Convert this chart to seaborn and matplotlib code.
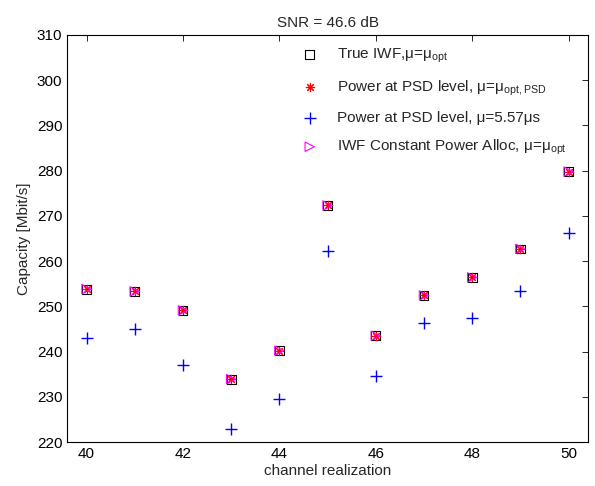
import numpy as np
import pandas as pd
import matplotlib
matplotlib.use("Agg")
import matplotlib.pyplot as plt
import seaborn as sns

# capacity per channel realization
channel = [40, 41, 42, 43, 44, 45, 46, 47, 48, 49, 50]
true_iwf = [253.8, 253.3, 249.1, 233.9, 240.2, 272.3, 243.5, 252.4, 256.4, 262.7, 279.8]
psd_opt = [253.8, 253.3, 249.1, 233.9, 240.2, 272.3, 243.5, 252.4, 256.4, 262.7, 279.8]
psd_fixed = [243.0, 245.1, 237.0, 222.9, 229.6, 262.2, 234.7, 246.3, 247.4, 253.5, 266.2]
iwf_const = [253.8, 253.3, 249.1, 233.9, 240.2, 272.3, 243.5, 252.4, 256.4, 262.7, 279.8]

labels = [
    "True IWF,μ=μ$_{\\mathrm{opt}}$",
    "Power at PSD level, μ=μ$_{\\mathrm{opt,PSD}}$",
    "Power at PSD level, μ=5.57μs",
    "IWF Constant Power Alloc, μ=μ$_{\\mathrm{opt}}$",
]

sns.set_style("white")
plt.rcParams["font.family"] = ["Liberation Sans", "DejaVu Sans"]
plt.rcParams["mathtext.fontset"] = "custom"
plt.rcParams["mathtext.rm"] = "Liberation Sans"
plt.rcParams["font.size"] = 11

fig = plt.figure(figsize=(5.95, 4.86), dpi=100)
ax = fig.add_axes([0.113, 0.0905, 0.875, 0.8375])

sns.scatterplot(x=channel, y=true_iwf, ax=ax, marker="s", s=40,
                facecolors="none", edgecolor="black", linewidth=0.8, label=labels[0])
sns.scatterplot(x=channel, y=psd_opt, ax=ax, marker=(8, 2, 0), s=36,
                color="#ff0000", edgecolor="#ff0000", linewidth=0.8, label=labels[1])
sns.scatterplot(x=channel, y=psd_fixed, ax=ax, marker="+", s=70,
                color="#0000ff", edgecolor="#0000ff", linewidth=1.0, label=labels[2])
sns.scatterplot(x=channel, y=iwf_const, ax=ax, marker=">", s=45,
                facecolors="none", edgecolor="#ff00ff", linewidth=0.8, label=labels[3])

ax.set_xlim(39.6, 50.4)
ax.set_ylim(220, 310)
ax.set_xticks(np.arange(40, 51, 2))
ax.set_yticks(np.arange(220, 311, 10))
ax.tick_params(direction="in", top=True, right=True, length=4, width=0.6,
               labelsize=11, colors="black")
for sp in ax.spines.values():
    sp.set_visible(True)
    sp.set_color("black")
    sp.set_linewidth(0.8)

ax.set_title("SNR = 46.6 dB", fontsize=11, pad=6)
ax.set_xlabel("channel realization", fontsize=11, labelpad=2)
ax.set_ylabel("Capacity [Mbit/s]", fontsize=11, labelpad=4)

ax.legend(loc="upper left", bbox_to_anchor=(0.41, 1.005), frameon=False,
          fontsize=11, handletextpad=0.8, labelspacing=0.85)

fig.savefig("out.png", dpi=100)
